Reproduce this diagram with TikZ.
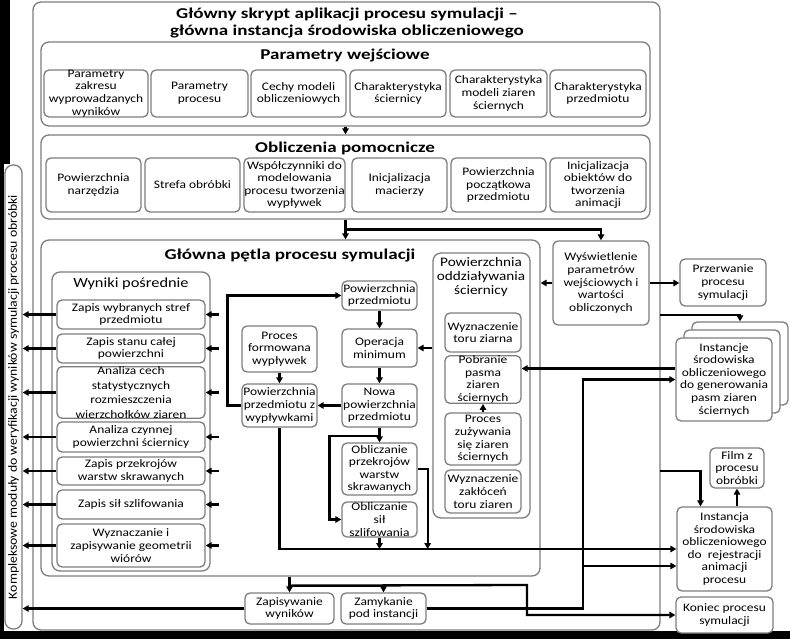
\documentclass[tikz,border=0pt]{standalone}
\usepackage{fontspec}
\setmainfont{Carlito}[FakeStretch=1.17]
\newfontfamily\titlefam{Carlito}[FakeStretch=1.27]
\newfontfamily\modfont{Carlito}[FakeStretch=1.1]
\usetikzlibrary{arrows.meta,calc}
\definecolor{bordergray}{RGB}{125,125,125}
\newcommand\boxfont{\fontsize{11.5}{12.6}\selectfont}
\newcommand\secfont{\titlefam\fontsize{15}{17}\selectfont\bfseries}
\newcommand\mkbox[7][box]{\node[#1, minimum width={(#5-#3)*1pt}, minimum height={(#6-#4)*1pt}] (#2) at ({(#3+#5)/2},{(#4+#6)/2}) {#7};}
\tikzset{
  box/.style={draw=bordergray, line width=1.3pt, rounded corners=5pt, fill=white, align=center, inner sep=0pt, font=\boxfont},
  cont/.style={draw=bordergray, line width=1.3pt, rounded corners=8pt, fill=white, inner sep=0pt},
  sectitle/.style={font=\secfont, align=center, inner sep=0pt},
  subtitle/.style={font=\fontsize{14}{15}\selectfont, align=center, inner sep=0pt},
  conn/.style={line width=2.3pt, -{Triangle[length=6pt,width=6.5pt]}},
  plainline/.style={line width=2.3pt}
}
\begin{document}
\begin{tikzpicture}[x=1pt,y=-1pt]
\useasboundingbox (0,0) rectangle (790,639);
% background
\fill[black] (0,0) rectangle (790,639);
\fill[white] (4,0) rectangle (790,631);
\fill[black] (0,0) rectangle (10,164);
% module box
\mkbox[cont]{mod}{5}{165}{22}{629}{}
\node[rotate=90, font=\modfont\fontsize{12.5}{14}\selectfont, inner sep=0pt] (modt) at (mod.center) {Kompleksowe moduły do weryfikacji wyników symulacji procesu obróbki};
% main box
\mkbox[cont]{main}{33}{2}{660}{630}{}
\node[sectitle] (mtitle) at (347,23) {Główny skrypt aplikacji procesu symulacji –\\główna instancja środowiska obliczeniowego};
% Parametry wejsciowe
\mkbox[cont]{pw}{41}{42}{650}{126}{}
\node[sectitle] (pwt) at (345,56) {Parametry wejściowe};
\mkbox{p1}{44}{70}{148}{117}{Parametry\\zakresu\\wyprowadzanych\\wyników}
\mkbox{p2}{151}{70}{248}{117}{Parametry\\procesu}
\mkbox{p3}{251}{70}{346}{117}{Cechy modeli\\obliczeniowych}
\mkbox{p4}{350}{70}{446}{117}{Charakterystyka\\ściernicy}
\mkbox{p5}{450}{70}{547}{117}{Charakterystyka\\modeli ziaren\\ściernych}
\mkbox{p6}{550}{70}{646}{117}{Charakterystyka\\przedmiotu}
% Obliczenia pomocnicze
\mkbox[cont]{ob}{41}{135}{650}{219}{}
\node[sectitle] (obt) at (345,148) {Obliczenia pomocnicze};
\mkbox{o1}{46}{158}{141}{212}{Powierzchnia\\narzędzia}
\mkbox{o2}{145}{158}{240}{212}{Strefa obróbki}
\mkbox{o3}{244}{158}{345}{212}{Współczynniki do\\modelowania\\procesu tworzenia\\wypływek}
\mkbox{o4}{352}{158}{447}{212}{Inicjalizacja\\macierzy}
\mkbox{o5}{451}{158}{546}{212}{Powierzchnia\\początkowa\\przedmiotu}
\mkbox{o6}{550}{158}{646}{212}{Inicjalizacja\\obiektów do\\tworzenia\\animacji}
% Glowna petla
\mkbox[cont]{gp}{41}{240}{540}{576}{}
\node[sectitle] (gpt) at (290,256) {Główna pętla procesu symulacji};
\mkbox[cont]{wyn}{52}{272}{210}{571}{}
\node[subtitle] (wynt) at (131,284) {Wyniki pośrednie};
\mkbox[cont]{oddz}{433}{253}{530}{518}{}
\node[font=\fontsize{13}{14}\selectfont, align=center, inner sep=0pt] (oddzt) at (481,277) {Powierzchnia\\oddziaływania\\ściernicy};
% Wyniki posrednie boxes
\mkbox{w1}{57}{300}{205}{329}{Zapis wybranych stref\\przedmiotu}
\mkbox{w2}{57}{334}{205}{363}{Zapis stanu całej\\powierzchni}
\mkbox[box, font=\fontsize{11.5}{14.5}\selectfont]{w3}{57}{368}{205}{417}{Analiza cech\\statystycznych\\rozmieszczenia\\wierzchołków ziaren}
\mkbox{w4}{57}{422}{205}{452}{Analiza czynnej\\powierzchni ściernicy}
\mkbox{w5}{57}{457}{205}{485}{Zapis przekrojów\\warstw skrawanych}
\mkbox{w6}{57}{490}{205}{519}{Zapis sił szlifowania}
\mkbox{w7}{57}{524}{205}{567}{Wyznaczanie i\\zapisywanie geometrii\\wiórów}
% loop boxes
\mkbox{pp}{342}{281}{417}{310}{Powierzchnia\\przedmiotu}
\mkbox{opm}{342}{329}{417}{367}{Operacja\\minimum}
\mkbox{nowa}{342}{384}{417}{427}{Nowa\\powierzchnia\\przedmiotu}
\mkbox{pfw}{242}{326}{317}{372}{Proces\\formowana\\wypływek}
\mkbox{pzw}{242}{384}{317}{427}{Powierzchnia\\przedmiotu z\\wypływkami}
\mkbox{opk}{342}{443}{417}{495}{Obliczanie\\przekrojów\\warstw\\skrawanych}
\mkbox{osz}{342}{502}{417}{537}{Obliczanie\\sił\\szlifowania}
% oddzialywanie boxes
\mkbox{wtz}{445}{313}{521}{352}{Wyznaczenie\\toru ziarna}
\mkbox{pob}{445}{356}{521}{403}{Pobranie\\pasma\\ziaren\\ściernych}
\mkbox{puz}{445}{413}{521}{465}{Proces\\zużywania\\się ziaren\\ściernych}
\mkbox{wzt}{445}{470}{521}{513}{Wyznaczenie\\zakłóceń\\toru ziaren}
% right column
\mkbox{wys}{553}{241}{649}{325}{Wyświetlenie\\parametrów\\wejściowych i\\wartości\\obliczonych}
\mkbox{prz}{680}{259}{766}{306}{Przerwanie\\procesu\\symulacji}
\mkbox{instB}{692}{322}{788}{405}{}
\mkbox{instM}{684}{330}{780}{413}{}
\mkbox{instF}{676}{338}{772}{421}{Instancje\\środowiska\\obliczeniowego\\do generowania\\pasm ziaren\\ściernych}
\mkbox{film}{710}{448}{764}{488}{Film z\\procesu\\obróbki}
\mkbox{instR}{677}{507}{772}{591}{Instancja\\środowiska\\obliczeniowego\\do~~rejestracji\\animacji\\procesu}
\mkbox{kon}{676}{597}{773}{633}{Koniec procesu\\symulacji}
% bottom
\mkbox{zap}{245}{593}{334}{624}{Zapisywanie\\wyników}
\mkbox{zam}{341}{593}{426}{624}{Zamykanie\\pod instancji}
% connectors
\draw[conn] (pw.south) -- (ob.north);
\coordinate (j1) at ($(ob.south)+(0,10)$);
\draw[conn] (ob.south) -- (ob.south |- gp.north);
\draw[conn] (j1) -| (wys.north);
\draw[conn] (wys.west) -- (wys.west -| gp.east);
\draw[conn] (wys.east) -- (wys.east -| prz.west);
\coordinate (m1) at (660,315);
\draw[conn] (m1) -| (instB.north);
\coordinate (a1) at ($(instF.west)+(0,-11)$);
\draw[conn] (a1) -- (a1 -| pob.east);
\draw[conn] (opm.east -| oddz.west) -- (opm.east);
\draw[conn] (pp.south) -- (opm.north);
\draw[conn] (opm.south) -- (nowa.north);
\draw[conn] (pfw.south) -- (pzw.north);
\draw[conn] (nowa.west) -- (pzw.east);
\draw[conn] (pzw.west) -- ++(-14,0) |- (pp.west);
\coordinate (j2) at ($(nowa.south)+(0,8)$);
\draw[conn] (nowa.south) -- (opk.north);
\draw[conn] (j2) -- ++(-50,0) |- (osz.west);
\draw[conn] (opk.east) -- ++(10,0) coordinate (t1) -- (t1 |- instR.west);
\draw[conn] (osz.south) -- (osz.south |- instR.west);
\draw[conn] (pzw.south) |- (instR.west);
\draw[conn] (puz.north) -- (pob.south);
\coordinate (j3) at ($(gp.south)+(0,9)$);
\draw[conn] (zap.north |- gp.south) -- (zap.north);
\draw[conn] (j3) -| (zam.north);
\coordinate (k1) at (527,585);
\draw[conn] (j3) -- (k1) |- (kon.west);
\coordinate (v1) at (583,0);
\draw[conn] (zam.east) -| (v1 |- instF.west) -- (instF.west);
\coordinate (a2) at ($(instR.west)+(0,17)$);
\draw[conn] (a2 -| v1) -- (a2);
\coordinate (m2) at (660,471);
\draw[conn] (m2) -| ($(instR.north)+(-24,0)$);
\draw[conn] (film.south |- instR.north) -- (film.south);
\foreach \w in {w1,w2,w3,w4,w5,w6,w7}{
  \draw[conn] (\w.west) -- (\w.west -| mod.east);
  \draw[conn] ($(\w.east)+(13,0)$) -- (\w.east);
}
\draw[conn] (zap.west) -- (zap.west -| mod.east);
\end{tikzpicture}
\end{document}
